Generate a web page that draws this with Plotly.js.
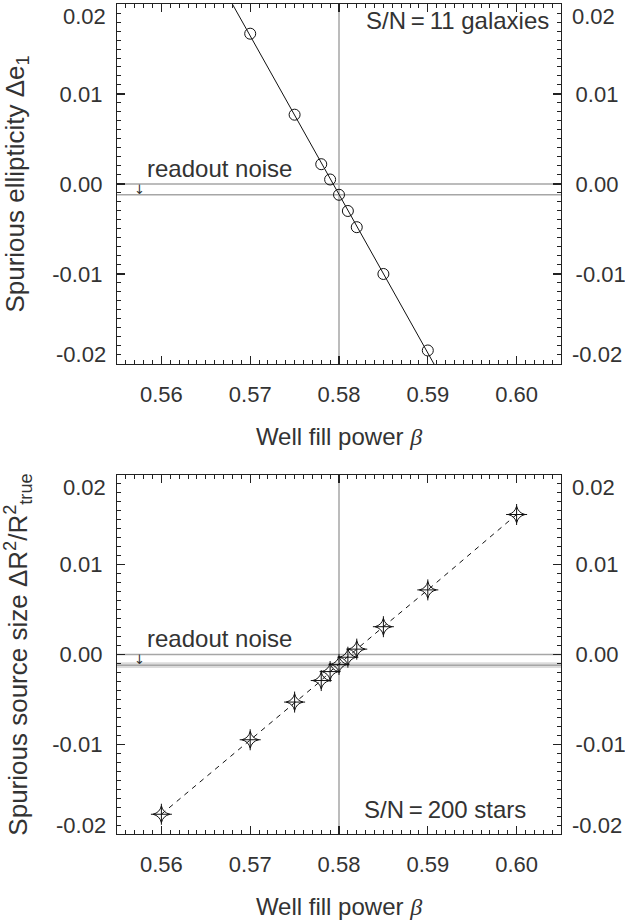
<!DOCTYPE html>
<html>
<head>
<meta charset="utf-8">
<script src="https://cdn.plot.ly/plotly-3.0.1.min.js"></script>
<style>html,body{margin:0;padding:0;background:#fff;}#chart{width:625px;height:922px;}</style>
</head>
<body>
<div id="chart"></div>
<script>
// ---- data ----
const betaGal = [0.570, 0.575, 0.578, 0.579, 0.580, 0.581, 0.582, 0.585, 0.590];
const de1Gal = [0.0167, 0.0077, 0.0022, 0.0005, -0.0012, -0.0030, -0.0048, -0.0100, -0.0185];
const betaStar = [0.560, 0.570, 0.575, 0.578, 0.579, 0.580, 0.581, 0.582, 0.585, 0.590, 0.600];
const dR2Star = [-0.0178, -0.0095, -0.0053, -0.0029, -0.0019, -0.0011, -0.0003, 0.0006, 0.0031, 0.0072, 0.0156];
const betaRef = 0.58;
const noiseGal = [0, -0.0012];
const noiseStarLine = [0];
const noiseStarBand = [-0.00085, -0.0015];
const noiseStarMid = [-0.0012];
const xTickVals = [0.56, 0.57, 0.58, 0.59, 0.60];
const xTickText = ['0.56', '0.57', '0.58', '0.59', '0.60'];
const yTickVals = [-0.01, 0, 0.01];
const yTickText = ['-0.01', '0.00', '0.01'];
const yEndVals = [-0.02, 0.02];
const yEndText = ['-0.02', '0.02'];
const labelGal = 'S/N\u2009=\u200911 galaxies';
const labelStar = 'S/N\u2009=\u2009200 stars';
const noiseLabel = 'readout noise';

// linear fit for the galaxy line
function fit(x, y) {
  const n = x.length;
  const mx = x.reduce((a, b) => a + b, 0) / n;
  const my = y.reduce((a, b) => a + b, 0) / n;
  let sxy = 0, sxx = 0;
  for (let i = 0; i < n; i++) { sxy += (x[i] - mx) * (y[i] - my); sxx += (x[i] - mx) ** 2; }
  const b = sxy / sxx;
  return [b, my - b * mx];
}
const xRange = [0.555, 0.605];
const yRange = [-0.02, 0.02];
const [slopeG, icptG] = fit(betaGal, de1Gal);
const fitX = xRange.slice();
const fitY = fitX.map(v => icptG + slopeG * v);

const FONT = 'Liberation Sans, Arial, Helvetica, sans-serif';
const TXT = '#333';
const AX = '#222';
const GRAYLINE = '#a6a6a6';

function xAxis(extra) {
  return Object.assign({
    range: xRange, showgrid: false, zeroline: false,
    showline: true, linecolor: AX, linewidth: 1.2, mirror: 'ticks',
    ticks: 'inside', ticklen: 8, tickwidth: 1.2, tickcolor: AX,
    tickvals: xTickVals, ticktext: xTickText,
    minor: {dtick: 0.001, tick0: 0.56, ticks: 'inside', ticklen: 4, tickwidth: 1, tickcolor: AX},
    tickfont: {family: FONT, size: 22, color: TXT},
    ticklabelstandoff: 10
  }, extra);
}
function yAxis(extra) {
  return Object.assign({
    range: yRange, showgrid: false, zeroline: false,
    showline: true, linecolor: AX, linewidth: 1.2,
    ticks: 'inside', ticklen: 8, tickwidth: 1.2, tickcolor: AX,
    tickvals: yTickVals, ticktext: yTickText,
    minor: {dtick: 0.001, tick0: 0, ticks: 'inside', ticklen: 4, tickwidth: 1, tickcolor: AX},
    tickfont: {family: FONT, size: 22, color: TXT},
    ticklabelstandoff: 9
  }, extra);
}

const xTitle = {text: 'Well fill power <span style="font-family:Liberation Serif"><i>β</i></span>', font: {family: FONT, size: 24, color: TXT}, standoff: 22};
const yTitleFont = {family: FONT, size: 26, color: TXT};

const traces = [
  {x: fitX, y: fitY, xaxis: 'x', yaxis: 'y', mode: 'lines', line: {color: '#111', width: 1}, hoverinfo: 'skip', showlegend: false},
  {x: betaGal, y: de1Gal, xaxis: 'x', yaxis: 'y', mode: 'markers',
   marker: {symbol: 'circle-open', size: 11, color: '#111', line: {width: 1, color: '#111'}}, showlegend: false},
  {x: betaGal, y: de1Gal, xaxis: 'x', yaxis: 'y3', mode: 'markers', marker: {opacity: 0}, hoverinfo: 'skip', showlegend: false},
  {x: betaStar, y: dR2Star, xaxis: 'x2', yaxis: 'y2', mode: 'lines+markers',
   line: {color: '#111', width: 1, dash: '5px,5px'},
   marker: {symbol: 'star-diamond-open', size: 12, color: '#111', line: {width: 1, color: '#111'}}, showlegend: false},
  {x: betaStar, y: dR2Star, xaxis: 'x2', yaxis: 'y2', mode: 'markers',
   marker: {symbol: 'cross-thin-open', size: 15, color: '#111', line: {width: 1, color: '#111'}}, hoverinfo: 'skip', showlegend: false},
  {x: betaStar, y: dR2Star, xaxis: 'x2', yaxis: 'y4', mode: 'markers', marker: {opacity: 0}, hoverinfo: 'skip', showlegend: false}
];

const shapes = [];
[['x', 'y'], ['x2', 'y2']].forEach(([xa, ya]) => {
  shapes.push({type: 'line', xref: xa, yref: ya + ' domain', x0: betaRef, x1: betaRef, y0: 0, y1: 1, line: {color: GRAYLINE, width: 1.5}, layer: 'below'});
});
noiseGal.forEach(v => shapes.push({type: 'line', xref: 'x domain', yref: 'y', x0: 0, x1: 1, y0: v, y1: v, line: {color: GRAYLINE, width: 1.5}, layer: 'below'}));
shapes.push({type: 'rect', xref: 'x2 domain', yref: 'y2', x0: 0, x1: 1, y0: noiseStarBand[0], y1: noiseStarBand[1], fillcolor: '#dcdcdc', line: {width: 0}, layer: 'below'});
noiseStarLine.concat(noiseStarMid).forEach(v => shapes.push({type: 'line', xref: 'x2 domain', yref: 'y2', x0: 0, x1: 1, y0: v, y1: v, line: {color: GRAYLINE, width: 1.5}, layer: 'below'}));

const annFont = {family: FONT, size: 24, color: TXT};
const annotations = [];
// end tick labels (shifted inward as in the reference)
[['y', 'x'], ['y2', 'x2']].forEach(([ya, xa]) => {
  yEndVals.forEach((v, i) => {
    const sh = v > 0 ? -12 : 9;
    annotations.push({xref: xa + ' domain', yref: ya, x: 0, y: v, text: yEndText[i], showarrow: false, xanchor: 'right', yanchor: 'middle', xshift: -9, yshift: sh, font: {family: FONT, size: 22, color: TXT}});
    annotations.push({xref: xa + ' domain', yref: ya, x: 1, y: v, text: yEndText[i], showarrow: false, xanchor: 'left', yanchor: 'middle', xshift: 9, yshift: sh, font: {family: FONT, size: 22, color: TXT}});
  });
});
annotations.push({xref: 'x domain', yref: 'y domain', x: 0.977, y: 0.955, text: labelGal, showarrow: false, xanchor: 'right', yanchor: 'middle', font: annFont});
annotations.push({xref: 'x2 domain', yref: 'y2 domain', x: 0.925, y: 0.067, text: labelStar, showarrow: false, xanchor: 'right', yanchor: 'middle', font: annFont});
annotations.push({xref: 'x domain', yref: 'y', x: 0.062, y: 0.0017, text: noiseLabel, showarrow: false, xanchor: 'left', yanchor: 'middle', font: annFont});
annotations.push({xref: 'x2 domain', yref: 'y2', x: 0.062, y: 0.0018, text: noiseLabel, showarrow: false, xanchor: 'left', yanchor: 'middle', font: annFont});
annotations.push({xref: 'x domain', yref: 'y', x: 0.05, y: noiseGal[1] / 2, text: '↓', showarrow: false, xanchor: 'center', yanchor: 'middle', font: {family: 'DejaVu Sans', size: 13, color: TXT}});
annotations.push({xref: 'x2 domain', yref: 'y2', x: 0.05, y: noiseStarMid[0] / 2, text: '↓', showarrow: false, xanchor: 'center', yanchor: 'middle', font: {family: 'DejaVu Sans', size: 13, color: TXT}});

const layout = {
  width: 625, height: 922,
  margin: {l: 117, r: 64, t: 4, b: 88},
  paper_bgcolor: '#fff', plot_bgcolor: '#fff',
  showlegend: false,
  xaxis: xAxis({domain: [0, 1], anchor: 'y', title: xTitle}),
  yaxis: yAxis({domain: [0.5663, 1], anchor: 'x', title: {text: 'Spurious ellipticity Δe<sub>1</sub>', font: yTitleFont, standoff: 22}}),
  yaxis3: yAxis({overlaying: 'y', side: 'right', anchor: 'x'}),
  xaxis2: xAxis({domain: [0, 1], anchor: 'y2', title: xTitle}),
  yaxis2: yAxis({domain: [0, 0.4325], anchor: 'x2', title: {text: 'Spurious source size ΔR<sup>2</sup>/R<sup>2</sup><sub>true</sub>', font: yTitleFont, standoff: 22}}),
  yaxis4: yAxis({overlaying: 'y2', side: 'right', anchor: 'x2'}),
  shapes: shapes,
  annotations: annotations
};

Plotly.newPlot('chart', traces, layout, {displayModeBar: false, staticPlot: true});
</script>
</body>
</html>
